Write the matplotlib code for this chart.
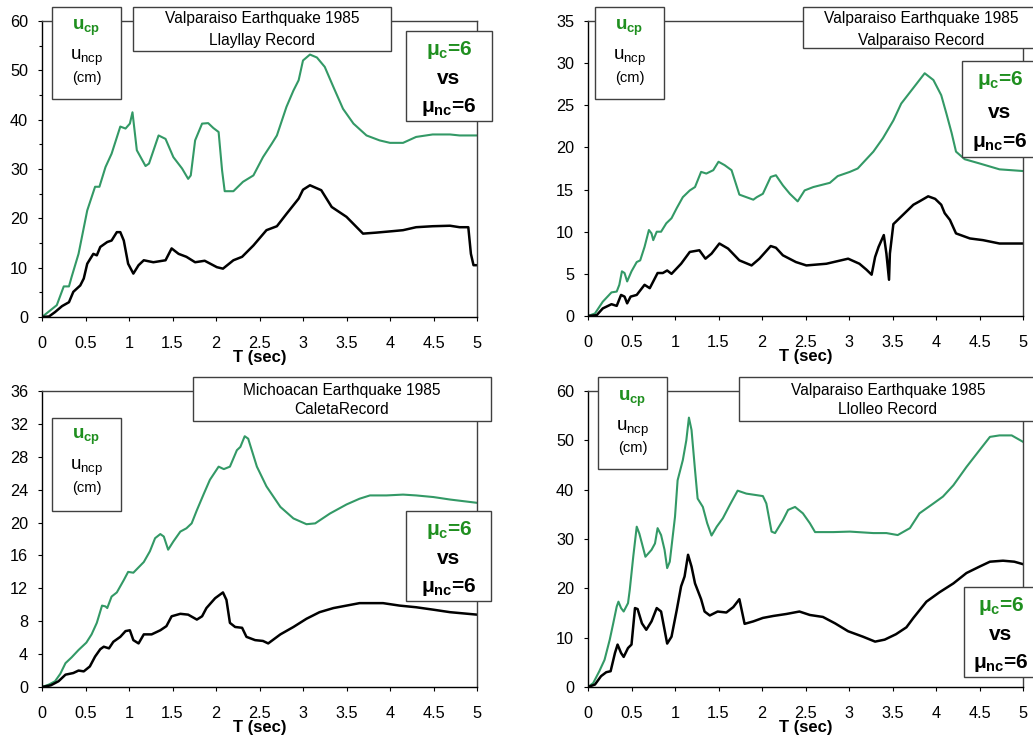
import numpy as np
import matplotlib
matplotlib.use("Agg")
import matplotlib.pyplot as plt
from matplotlib.patches import Rectangle
from matplotlib.ticker import MultipleLocator

plt.rcParams['font.family'] = ['Liberation Sans', 'DejaVu Sans']
plt.rcParams['mathtext.fontset'] = 'custom'
plt.rcParams['mathtext.rm'] = 'Liberation Sans'
plt.rcParams['mathtext.bf'] = 'Liberation Sans:bold'
plt.rcParams['mathtext.it'] = 'Liberation Sans:italic'

# --- data: T (sec) and displacement (cm) ---
# Llayllay
t_llay_cp = [0, 0.17, 0.25, 0.31, 0.34, 0.42, 0.52, 0.61, 0.66, 0.73, 0.80, 0.90, 0.96, 1.01, 1.04,
             1.09, 1.19, 1.23, 1.34, 1.42, 1.51, 1.61, 1.68, 1.71, 1.76, 1.84, 1.91, 1.97, 2.03, 2.07,
             2.10, 2.20, 2.31, 2.43, 2.54, 2.64, 2.70, 2.81, 2.89, 2.95, 3.00, 3.08, 3.16, 3.25, 3.35,
             3.46, 3.58, 3.73, 3.88, 4.00, 4.15, 4.30, 4.49, 4.69, 4.80, 5.0]
u_llay_cp = [0, 2.4, 6.2, 6.2, 8.1, 12.8, 21.6, 26.4, 26.4, 30.4, 33.1, 38.6, 38.2, 39.2, 41.5,
             33.8, 30.6, 31.1, 36.8, 36.1, 32.4, 30.1, 28.0, 28.7, 35.8, 39.2, 39.3, 38.3, 37.5, 29.7,
             25.5, 25.5, 27.4, 28.7, 32.4, 35.1, 36.8, 42.6, 45.9, 48.0, 52.0, 53.2, 52.6, 50.7, 46.6,
             42.2, 39.2, 36.8, 35.8, 35.3, 35.3, 36.5, 37.0, 37.0, 36.8, 36.8]
t_llay_ncp = [0, 0.08, 0.15, 0.23, 0.31, 0.36, 0.44, 0.48, 0.52, 0.59, 0.63, 0.67, 0.75, 0.80, 0.86,
              0.90, 0.94, 0.99, 1.05, 1.11, 1.17, 1.28, 1.42, 1.49, 1.57, 1.66, 1.76, 1.87, 2.01, 2.08,
              2.20, 2.30, 2.43, 2.58, 2.70, 2.81, 2.95, 3.00, 3.08, 3.21, 3.33, 3.50, 3.69, 3.84, 4.03,
              4.15, 4.30, 4.49, 4.69, 4.80, 4.90, 4.93, 4.96, 5.0]
u_llay_ncp = [0, 0.1, 1.0, 2.2, 3.0, 5.1, 6.4, 7.8, 10.8, 12.8, 12.5, 14.2, 15.2, 15.5, 17.2,
              17.2, 15.5, 10.8, 8.8, 10.5, 11.5, 11.1, 11.5, 13.9, 12.8, 12.2, 11.1, 11.4, 10.1, 9.8,
              11.5, 12.2, 14.5, 17.6, 18.4, 20.9, 24.0, 25.8, 26.7, 25.7, 22.3, 20.3, 16.9, 17.1, 17.4,
              17.6, 18.2, 18.4, 18.5, 18.2, 18.2, 12.8, 10.5, 10.5]

# Valparaiso
t_valp_cp = [0, 0.08, 0.17, 0.27, 0.33, 0.36, 0.39, 0.42, 0.45, 0.50, 0.56, 0.60, 0.65, 0.70, 0.73,
             0.75, 0.79, 0.84, 0.90, 0.96, 1.02, 1.09, 1.17, 1.23, 1.30, 1.36, 1.44, 1.50, 1.57, 1.65,
             1.74, 1.82, 1.90, 1.94, 2.01, 2.10, 2.16, 2.24, 2.32, 2.41, 2.49, 2.59, 2.78, 2.87, 3.01,
             3.10, 3.28, 3.39, 3.51, 3.60, 3.75, 3.87, 3.97, 4.06, 4.12, 4.18, 4.23, 4.33, 4.50, 4.73, 5.0]
u_valp_cp = [0, 0.3, 1.7, 2.8, 2.9, 3.7, 5.3, 5.1, 4.1, 5.3, 6.4, 6.6, 8.2, 10.2, 9.8,
             9.0, 10.0, 10.0, 11.0, 11.6, 12.8, 14.1, 14.9, 15.3, 17.1, 16.9, 17.3, 18.3, 17.9, 17.3,
             14.4, 14.1, 13.8, 14.1, 14.5, 16.5, 16.7, 15.5, 14.5, 13.6, 14.9, 15.3, 15.8, 16.6, 17.1,
             17.5, 19.5, 21.1, 23.2, 25.2, 27.2, 28.8, 28.0, 26.2, 24.0, 21.7, 19.5, 18.6, 18.1, 17.4, 17.2]
t_valp_ncp = [0, 0.10, 0.17, 0.27, 0.33, 0.38, 0.42, 0.45, 0.49, 0.56, 0.65, 0.71, 0.80, 0.86, 0.91,
              0.96, 1.07, 1.17, 1.28, 1.35, 1.42, 1.51, 1.61, 1.74, 1.88, 1.97, 2.10, 2.16, 2.24, 2.39,
              2.51, 2.74, 2.99, 3.12, 3.20, 3.26, 3.30, 3.34, 3.40, 3.43, 3.46, 3.47, 3.51, 3.62, 3.74,
              3.81, 3.91, 3.99, 4.06, 4.10, 4.16, 4.23, 4.39, 4.54, 4.73, 5.0]
u_valp_ncp = [0, 0.1, 0.9, 1.4, 1.2, 2.5, 2.3, 1.5, 2.3, 2.5, 3.7, 3.3, 5.1, 5.1, 5.4,
              5.0, 6.2, 7.6, 7.8, 6.8, 7.4, 8.6, 8.0, 6.6, 6.0, 6.8, 8.3, 8.1, 7.2, 6.4,
              6.0, 6.2, 6.8, 6.2, 5.5, 4.9, 7.0, 8.2, 9.6, 7.4, 4.3, 7.4, 10.9, 12.0, 13.2,
              13.6, 14.2, 13.9, 13.2, 12.2, 11.4, 9.8, 9.2, 9.0, 8.6, 8.6]

# Caleta (Michoacan)
t_cal_cp = [0, 0.08, 0.15, 0.21, 0.27, 0.34, 0.42, 0.51, 0.57, 0.63, 0.69, 0.73, 0.75, 0.80, 0.86,
            0.94, 0.99, 1.05, 1.17, 1.24, 1.30, 1.36, 1.40, 1.45, 1.51, 1.59, 1.66, 1.72, 1.78, 1.86,
            1.93, 2.03, 2.09, 2.16, 2.24, 2.28, 2.33, 2.37, 2.47, 2.58, 2.74, 2.89, 3.04, 3.14, 3.31,
            3.50, 3.65, 3.77, 3.96, 4.15, 4.30, 4.50, 4.69, 5.0]
u_cal_cp = [0, 0.3, 0.7, 1.6, 2.9, 3.6, 4.5, 5.4, 6.4, 7.8, 9.9, 9.8, 9.6, 11.0, 11.5,
            13.0, 14.0, 13.9, 15.2, 16.5, 18.1, 18.6, 18.3, 16.7, 17.7, 18.9, 19.3, 19.9, 21.5, 23.5,
            25.2, 26.8, 26.5, 26.8, 28.8, 29.2, 30.5, 30.2, 26.8, 24.4, 21.9, 20.5, 19.8, 19.9, 21.1,
            22.2, 22.9, 23.3, 23.3, 23.4, 23.3, 23.1, 22.8, 22.4]
t_cal_ncp = [0, 0.10, 0.19, 0.27, 0.36, 0.42, 0.48, 0.55, 0.61, 0.67, 0.71, 0.77, 0.82, 0.90, 0.96,
             1.01, 1.05, 1.11, 1.17, 1.26, 1.36, 1.43, 1.49, 1.59, 1.68, 1.78, 1.84, 1.89, 1.99, 2.08,
             2.12, 2.16, 2.22, 2.30, 2.35, 2.45, 2.54, 2.60, 2.74, 2.89, 3.04, 3.19, 3.35, 3.50, 3.65,
             3.92, 4.11, 4.30, 4.50, 4.69, 5.0]
u_cal_ncp = [0, 0.2, 0.7, 1.5, 1.7, 2.0, 1.9, 2.5, 3.7, 4.6, 4.9, 4.7, 5.5, 6.1, 6.8,
             6.9, 5.7, 5.3, 6.4, 6.4, 6.9, 7.4, 8.6, 8.9, 8.8, 8.2, 8.6, 9.6, 10.8, 11.5,
             10.6, 7.8, 7.3, 7.2, 6.1, 5.7, 5.6, 5.3, 6.4, 7.3, 8.3, 9.1, 9.6, 9.9, 10.2,
             10.2, 9.9, 9.7, 9.4, 9.1, 8.8]

# Llolleo
t_llo_cp = [0, 0.06, 0.13, 0.19, 0.25, 0.29, 0.33, 0.35, 0.38, 0.41, 0.46, 0.48, 0.52, 0.56, 0.59,
            0.62, 0.66, 0.73, 0.77, 0.80, 0.84, 0.88, 0.91, 0.94, 1.00, 1.03, 1.09, 1.13, 1.16, 1.19,
            1.23, 1.26, 1.32, 1.37, 1.42, 1.48, 1.55, 1.63, 1.72, 1.82, 2.01, 2.05, 2.11, 2.15, 2.24,
            2.30, 2.38, 2.47, 2.55, 2.61, 2.82, 3.01, 3.28, 3.43, 3.56, 3.70, 3.81, 3.97, 4.08, 4.20,
            4.35, 4.50, 4.62, 4.73, 4.87, 5.0]
u_llo_cp = [0, 0.8, 3.2, 5.5, 9.6, 12.9, 16.3, 17.3, 16.0, 15.3, 17.0, 19.7, 26.4, 32.5, 31.1,
            29.1, 26.4, 27.8, 29.1, 32.2, 30.8, 27.8, 24.1, 25.4, 34.5, 41.9, 46.0, 50.0, 54.6, 52.1,
            44.0, 38.2, 36.5, 33.2, 30.7, 32.5, 34.2, 36.9, 39.8, 39.2, 38.7, 37.2, 31.5, 31.2, 33.8,
            35.9, 36.5, 35.2, 33.2, 31.4, 31.4, 31.5, 31.2, 31.2, 30.8, 32.2, 35.2, 37.2, 38.6, 40.9,
            44.6, 48.0, 50.7, 51.0, 51.0, 49.7]
t_llo_ncp = [0, 0.08, 0.15, 0.21, 0.26, 0.31, 0.34, 0.38, 0.41, 0.46, 0.50, 0.54, 0.57, 0.62, 0.67,
             0.73, 0.79, 0.84, 0.88, 0.91, 0.96, 1.02, 1.07, 1.11, 1.15, 1.19, 1.23, 1.30, 1.34, 1.40,
             1.49, 1.59, 1.67, 1.74, 1.80, 1.90, 2.01, 2.13, 2.28, 2.43, 2.55, 2.70, 2.84, 2.99, 3.16,
             3.30, 3.41, 3.54, 3.66, 3.74, 3.89, 4.04, 4.20, 4.35, 4.50, 4.62, 4.77, 4.90, 5.0]
u_llo_ncp = [0, 0.5, 2.2, 3.0, 3.2, 6.9, 8.6, 6.9, 6.1, 7.9, 8.6, 16.0, 15.8, 12.9, 11.6,
             13.3, 16.0, 15.3, 11.6, 8.8, 10.2, 15.6, 20.4, 22.4, 26.8, 24.4, 21.0, 17.8, 15.3, 14.5,
             15.3, 15.1, 16.2, 17.8, 12.8, 13.3, 14.0, 14.4, 14.8, 15.3, 14.6, 14.2, 12.9, 11.3, 10.2,
             9.2, 9.6, 10.7, 12.1, 14.0, 17.3, 19.2, 21.0, 23.1, 24.4, 25.4, 25.6, 25.4, 24.9]

W, H = 1033, 738
GREEN_LINE = '#339966'
GREEN_TXT = '#1f8f1f'
EDGE = '#404040'

fig = plt.figure(figsize=(W / 100, H / 100), dpi=100)


def px_axes(x0, y_top, x1, y_bot):
    return fig.add_axes([x0 / W, (H - y_bot) / H, (x1 - x0) / W, (y_bot - y_top) / H])


def box(x0, y0, x1, y1):
    fig.add_artist(Rectangle((x0 / W, (H - y1) / H), (x1 - x0) / W, (y1 - y0) / H,
                             transform=fig.transFigure, facecolor='white',
                             edgecolor=EDGE, linewidth=1.0, zorder=5))


def ftext(x, y, s, **kw):
    fig.text(x / W, (H - y) / H, s, ha='center', va='center', zorder=6, **kw)


def panel(rect, t_cp, u_cp, t_ncp, u_ncp, ymax, ystep, minor=None):
    ax = px_axes(*rect)
    ax.plot(t_cp, u_cp, color=GREEN_LINE, lw=1.5)
    ax.plot(t_ncp, u_ncp, color='black', lw=1.8)
    ax.set_xlim(0, 5)
    ax.set_ylim(0, ymax)
    ax.yaxis.set_major_locator(MultipleLocator(ystep))
    ax.set_xticks(np.arange(0, 5.01, 0.5))
    ax.set_xticklabels(['0', '0.5', '1', '1.5', '2', '2.5', '3', '3.5', '4', '4.5', '5'])
    if minor:
        ax.yaxis.set_minor_locator(MultipleLocator(minor))
        ax.tick_params(axis='y', which='minor', length=2.5, width=0.8)
    ax.tick_params(axis='both', which='major', direction='out', length=3, width=0.8,
                   labelsize=11.7, colors='black')
    ax.tick_params(axis='y', pad=7)
    ax.tick_params(axis='x', pad=11)
    ax.set_xlabel('T (sec)', fontsize=12, fontweight='bold', labelpad=-1)
    for s in ['left', 'bottom']:
        ax.spines[s].set_color('black')
        ax.spines[s].set_linewidth(1.0)
    for s in ['top', 'right']:
        ax.spines[s].set_color(EDGE)
        ax.spines[s].set_linewidth(1.0)
    return ax


def legend_boxes(left, title, mu, lines_left, lines_title, lines_mu, title_text):
    box(*left)
    cx = (left[0] + left[2]) / 2
    ftext(cx, lines_left[0], r'$\mathbf{u_{cp}}$', fontsize=13.5, color=GREEN_TXT)
    ftext(cx, lines_left[1], r'$\mathregular{u_{ncp}}$', fontsize=13.5, color='black')
    ftext(cx, lines_left[2], '(cm)', fontsize=10.6, color='black')
    box(*title)
    ftext(lines_title[0], lines_title[1], title_text[0], fontsize=11.2)
    ftext(lines_title[0], lines_title[2], title_text[1], fontsize=11.2)
    box(*mu)
    ftext(lines_mu[0], lines_mu[1], r'$\mathbf{μ_{c}}$=6', fontsize=15, fontweight='bold', color=GREEN_TXT)
    ftext(lines_mu[0], lines_mu[2], 'vs', fontsize=15, fontweight='bold')
    ftext(lines_mu[0], lines_mu[3], r'$\mathbf{μ_{nc}}$=6', fontsize=15, fontweight='bold')


# top-left: Llayllay
panel((42, 21, 477, 317), t_llay_cp, u_llay_cp, t_llay_ncp, u_llay_ncp, 60, 10, minor=5)
legend_boxes((52, 7, 121, 99), (133, 7, 391, 51), (406, 31, 492, 121),
             (28, 58, 78), (262, 19, 40), (449, 50, 79, 107),
             ('Valparaiso Earthquake 1985', 'Llayllay Record'))

# top-right: Valparaiso
panel((588, 21, 1023, 316), t_valp_cp, u_valp_cp, t_valp_ncp, u_valp_ncp, 35, 5)
legend_boxes((595, 7, 664, 99), (803, 7, 1045, 48), (962, 61, 1045, 157),
             (28, 58, 78), (921, 19, 40), (1000, 80, 112, 142),
             ('Valparaiso Earthquake 1985', 'Valparaiso Record'))

# bottom-left: Caleta
panel((42, 391, 477, 687), t_cal_cp, u_cal_cp, t_cal_ncp, u_cal_ncp, 36, 4)
legend_boxes((52, 418, 121, 511), (193, 377, 491, 421), (406, 511, 491, 601),
             (437, 468, 488), (342, 390, 410), (449, 530, 558, 587),
             ('Michoacan Earthquake 1985', 'CaletaRecord'))

# bottom-right: Llolleo
panel((588, 391, 1023, 687), t_llo_cp, u_llo_cp, t_llo_ncp, u_llo_ncp, 60, 10)
legend_boxes((598, 377, 667, 469), (739, 377, 1045, 421), (964, 587, 1045, 677),
             (399, 429, 448), (888, 390, 410), (1001, 606, 635, 663),
             ('Valparaiso Earthquake 1985', 'Llolleo Record'))

fig.savefig('out.png', dpi=100)
